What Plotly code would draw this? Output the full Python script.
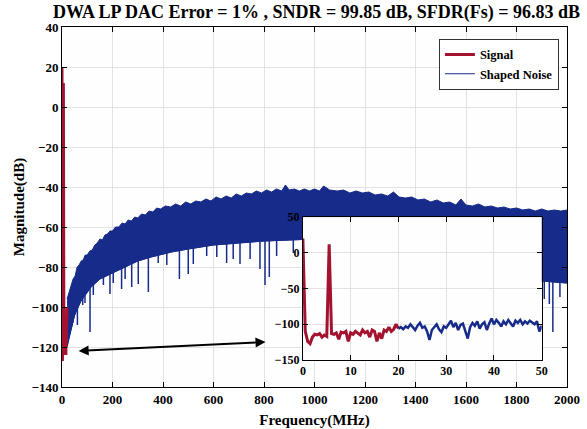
import numpy as np
import plotly.graph_objects as go

# ---------------- data ----------------
# Signal spectrum, 0-20 MHz (0.5 MHz bins), dB
sig_f = np.arange(0, 20.01, 0.5)
sig_db = [20, -110, -124, -127, -118, -114, -115, -113, -118, -115,
          -117, 12, -113, -114, -112, -121, -111, -112, -110, -124,
          -112, -114, -110, -112, -115, -108, -112, -110, -118, -108,
          -110, -124, -112, -120, -108, -110, -104, -110, -107, -100, -106]

# Shaped noise, 20-50 MHz detail (0.5 MHz bins), dB
noise_f = np.arange(20, 50.01, 0.5)
noise_db = [-106, -104, -107, -103, -105, -100, -104, -108, -102, -98,
            -105, -103, -110, -122, -108, -104, -100, -107, -111, -103,
            -105, -100, -95, -104, -98, -108, -101, -99, -110, -120,
            -104, -98, -102, -96, -106, -100, -97, -108, -99, -92,
            -100, -94, -98, -103, -96, -100, -94, -99, -103, -95,
            -98, -94, -100, -96, -99, -95, -97, -100, -96, -110, -102]

# Shaped noise over full band: upper edge of the noise (MHz, dB)
up_f = [20, 28, 36, 44, 52, 60, 68, 76, 84, 92, 100, 110, 120, 130, 140,
        150, 160, 170, 180, 190, 200, 212, 225, 238, 250, 262, 275, 288,
        300, 315, 330, 345, 360, 375, 390, 410, 430, 450, 470, 490, 510,
        530, 550, 570, 590, 610, 630, 650, 670, 690, 710, 730, 750, 770,
        790, 810, 830, 850, 870, 885, 900, 920, 940, 960, 980, 1000, 1020,
        1036, 1060, 1090, 1115, 1140, 1165, 1190, 1215, 1240, 1265, 1290,
        1313, 1335, 1360, 1385, 1410, 1435, 1460, 1485, 1510, 1535, 1560,
        1580, 1600, 1625, 1650, 1675, 1700, 1725, 1750, 1775, 1800, 1825,
        1850, 1875, 1900, 1925, 1950, 1975, 2000]
up_db = [-96, -93, -90, -86, -84.5, -80, -79, -77, -76.5, -74, -74, -72,
         -71.5, -69, -68, -66, -66.5, -64, -63.5, -62, -62, -60, -60, -58,
         -58.5, -56.5, -57, -55, -55.5, -53.5, -54, -52, -52.5, -50.5, -51,
         -49.5, -50, -48.5, -49.5, -47.5, -48.5, -47, -47.5, -46, -47, -45,
         -46, -44.5, -45.5, -43.5, -44.5, -43, -43.5, -42, -43, -41.5,
         -42.5, -41, -42, -39, -41.5, -41, -42, -41, -42, -41, -42, -39.5,
         -41.5, -42, -41.5, -43, -42, -43, -42.5, -44, -43.5, -44.5, -42.5,
         -45, -45.5, -45, -46.5, -46, -47.5, -46.5, -48, -47.5, -49, -46,
         -49, -49.5, -48.5, -50, -49.5, -50.5, -50, -51, -50.5, -51.5, -51,
         -52, -51, -52, -51.5, -52, -51.5]

# lower edge of the dense noise body (MHz, dB)
lo_f = [20, 30, 50, 75, 115, 150, 183, 250, 300, 353, 433, 500, 600, 700,
        800, 900, 1000, 1100, 1200, 1300, 1400, 1500, 1600, 1700, 1800,
        1850, 1900, 2000]
lo_db = [-120, -114, -104, -97, -90, -86, -84, -80, -77, -75, -72.5, -71,
         -69, -68, -67, -66.5, -66, -66, -66, -67, -68, -70, -72, -75, -80,
         -84, -87, -88]

# deep notches below the noise body (MHz, dB)
notch_f = [42, 51, 61, 82, 91, 111, 124, 164, 190, 203, 236, 250, 276, 302,
           342, 381, 415, 465, 500, 520, 573, 613, 652, 678, 705, 745, 784,
           804, 821, 850, 916, 1910, 1930, 1944, 1972]
notch_db = [-108, -104, -109, -99, -98, -112.5, -94, -89, -93.5, -88, -91,
            -86, -90, -88.5, -92.5, -78, -79, -86, -83.5, -78.5, -74.5, -75,
            -78, -76, -78.5, -76, -81, -89, -85, -74.5, -73, -96, -98.5,
            -112.5, -95]

# ---------------- styling ----------------
RED = "#A3132F"
BLUE = "#172B8A"
GRID = "#e2e2e2"
FONT = "Liberation Serif"

fig = go.Figure()

# noise band (legend entry is the plain line trace)
fig.add_trace(go.Scatter(x=lo_f, y=lo_db, mode="lines",
                         line=dict(color=BLUE, width=1),
                         name="Shaped Noise", legendrank=2, hoverinfo="skip"))
band_x = list(up_f) + list(lo_f)[::-1]
band_y = list(up_db) + list(lo_db)[::-1]
fig.add_trace(go.Scatter(x=band_x, y=band_y, mode="lines", fill="toself",
                         fillcolor=BLUE, line=dict(color=BLUE, width=1),
                         showlegend=False))
# notches
nx, ny = [], []
for f, d in zip(notch_f, notch_db):
    top = float(np.interp(f, lo_f, lo_db)) + 4
    nx += [f, f, None]
    ny += [d, top, None]
fig.add_trace(go.Scatter(x=nx, y=ny, mode="lines",
                         line=dict(color=BLUE, width=1.5),
                         showlegend=False, hoverinfo="skip"))
# signal in main plot
fig.add_trace(go.Scatter(x=sig_f, y=sig_db, mode="lines",
                         line=dict(color=RED, width=3),
                         name="Signal", legendrank=1))

# inset
fig.add_trace(go.Scatter(x=sig_f, y=sig_db, mode="lines",
                         line=dict(color=RED, width=3),
                         xaxis="x2", yaxis="y2", showlegend=False))
fig.add_trace(go.Scatter(x=noise_f, y=noise_db, mode="lines",
                         line=dict(color=BLUE, width=2.5),
                         xaxis="x2", yaxis="y2", showlegend=False))

axis_common = dict(showgrid=True, gridcolor=GRID, gridwidth=1,
                   showline=True, linecolor="black", linewidth=1,
                   mirror="ticks", ticks="inside", ticklen=5,
                   tickcolor="black", zeroline=False, automargin=False,
                   tickfont=dict(family=FONT, size=13, color="black",
                                 weight="bold"))
inset_font = dict(family=FONT, size=12, color="black", weight="bold")

fig.update_layout(
    width=587, height=429,
    margin=dict(l=62, r=20, t=27, b=42),
    paper_bgcolor="white", plot_bgcolor="#fefefe",
    font=dict(family=FONT, size=13, color="black", weight="bold"),
    title=dict(text="DWA LP DAC Error = 1% , SNDR = 99.85 dB, SFDR(Fs) = 96.83 dB",
               font=dict(family=FONT, size=18, color="black", weight="bold"),
               x=0.504, xref="paper", xanchor="center",
               y=1 - 12 / 429, yref="container", yanchor="middle"),
    xaxis=dict(range=[0, 2000], tick0=0, dtick=200,
               title=dict(text="Frequency(MHz)", standoff=9,
                          font=dict(family=FONT, size=15, weight="bold")),
               **axis_common),
    yaxis=dict(range=[-140, 40], tick0=-140, dtick=20,
               title=dict(text="Magnitude(dB)", standoff=3,
                          font=dict(family=FONT, size=15, weight="bold")),
               **axis_common),
    xaxis2=dict(domain=[0.477, 0.950], anchor="y2", range=[0, 50],
                tick0=0, dtick=10, **{**axis_common, "tickfont": inset_font}),
    yaxis2=dict(domain=[0.075, 0.472], anchor="x2", range=[-150, 50],
                tick0=-150, dtick=50, **{**axis_common, "tickfont": inset_font}),
    legend=dict(x=0.984, xanchor="right", y=0.967, yanchor="top",
                bgcolor="white", bordercolor="#333333", borderwidth=1,
                itemwidth=30, tracegroupgap=0,
                font=dict(family=FONT, size=12.5, color="black", weight="bold")),
    showlegend=True,
)

fig.add_annotation(x=806, y=-117.5, ax=60, ay=-122, xref="x", yref="y",
                   axref="x", ayref="y", text="", showarrow=True,
                   arrowhead=2, arrowside="end+start", arrowsize=1,
                   arrowwidth=2, arrowcolor="black")

fig.write_html("out.html")
